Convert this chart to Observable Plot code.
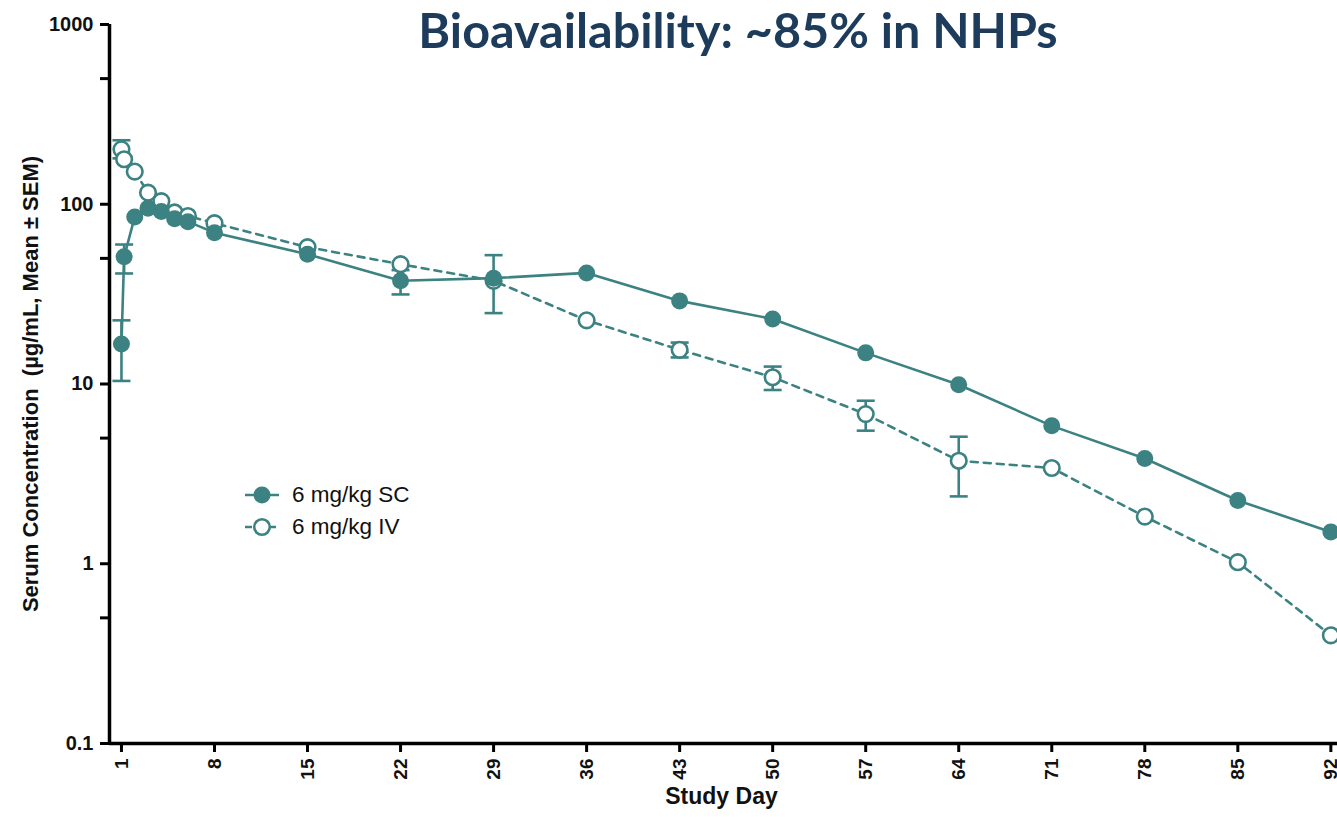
<!DOCTYPE html>
<html>
<head>
<meta charset="utf-8">
<script src="https://cdn.jsdelivr.net/npm/d3@7"></script>
<script src="https://cdn.jsdelivr.net/npm/@observablehq/plot@0.6"></script>
<style>
  html, body { margin: 0; padding: 0; background: #fff; }
  #wrap { position: relative; width: 1337px; height: 817px; overflow: hidden; }
  #title { position: absolute; top: 0px; left: 738px; transform: translateX(-50%); white-space: nowrap;
           font-family: Lato, "Open Sans", sans-serif; font-weight: 700; font-size: 48.5px; color: #1d3b5b; }
  #legend { position: absolute; left: 245px; top: 479px; font-family: "Liberation Sans", Arial, sans-serif;
            font-size: 22.5px; color: #111; }
  .item { display: flex; align-items: center; height: 32px; }
  .item svg { margin-right: 13px; }
</style>
</head>
<body>
<div id="wrap">
  <div id="chart"></div>
  <div id="title">Bioavailability: ~85% in NHPs</div>
  <div id="legend"></div>
</div>
<script>
// ---- data ----
const seriesNames = ["6 mg/kg SC", "6 mg/kg IV"];
const scDays = [1, 1.2, 2, 3, 4, 5, 6, 8, 15, 22, 29, 36, 43, 50, 57, 64, 71, 78, 85, 92];
const scConc = [16.7, 51, 85, 95, 91, 83, 80, 69.5, 52.7, 37.5, 38.8, 41.5, 29, 23, 14.9, 9.9, 5.85, 3.85, 2.25, 1.5];
const ivDays = [1, 1.2, 2, 3, 4, 5, 6, 8, 15, 22, 29, 36, 43, 50, 57, 64, 71, 78, 85, 92];
const ivConc = [202, 178, 152, 116, 104, 90, 86, 78.5, 57.7, 46.4, 37.5, 22.6, 15.5, 10.9, 6.8, 3.74, 3.41, 1.83, 1.02, 0.4];
const scErrDays = [1, 1.2, 22, 29];
const scErrLow = [10.4, 41.2, 31.5, 24.8];
const scErrHigh = [22.6, 59.7, 43, 52.1];
const ivErrDays = [1, 43, 50, 57, 64];
const ivErrLow = [180, 14.05, 9.26, 5.5, 2.37];
const ivErrHigh = [227, 17, 12.5, 8.07, 5.09];
const dayTicks = [1, 8, 15, 22, 29, 36, 43, 50, 57, 64, 71, 78, 85, 92];
const yMajorTicks = [0.1, 1, 10, 100, 1000];
const yMinorTicks = [0.5, 5, 50, 500];

// ---- tables ----
const sc = scDays.map((d, i) => ({day: d, conc: scConc[i]}));
const iv = ivDays.map((d, i) => ({day: d, conc: ivConc[i]}));
const errs = [
  ...scErrDays.map((d, i) => ({day: d, lo: scErrLow[i], hi: scErrHigh[i]})),
  ...ivErrDays.map((d, i) => ({day: d, lo: ivErrLow[i], hi: ivErrHigh[i]}))
];
const caps = errs.flatMap(e => [{day: e.day, v: e.lo}, {day: e.day, v: e.hi}]);

const teal = "#3c8282";
const font = "'Liberation Sans', Arial, sans-serif";
const noLabel = () => "";
const capSymbol = {
  draw(context, size) {
    const w = Math.sqrt(size / Math.PI);
    context.moveTo(-w, 0);
    context.lineTo(w, 0);
  }
};

const chart = Plot.plot({
  width: 1337,
  height: 817,
  marginLeft: 109,
  marginRight: 0,
  marginTop: 24,
  marginBottom: 74,
  style: {fontFamily: font, background: "white", overflow: "visible"},
  x: {type: "linear", domain: [0.1, 92.5]},
  y: {type: "log", domain: [0.1, 1000]},
  marks: [
    Plot.axisX({ticks: dayTicks, tickFormat: d => String(d), tickRotate: -90, tickSize: 9, tickPadding: 6,
      strokeWidth: 3, fill: "#111", label: null}),
    Plot.axisY({ticks: yMajorTicks, tickFormat: noLabel, tickSize: 9, strokeWidth: 3, label: null}),
    Plot.axisY({ticks: yMinorTicks, tickFormat: noLabel, tickSize: 9, strokeWidth: 3, label: null}),
    Plot.text(yMajorTicks, {y: d => d, frameAnchor: "left", dx: -16, textAnchor: "end",
      text: d => String(d), fontSize: 20, fontWeight: "bold", fill: "#111"}),
    Plot.ruleY([0.1], {stroke: "#000", strokeWidth: 3.5}),
    Plot.ruleX([0.1], {stroke: "#000", strokeWidth: 3.5}),
    Plot.text(["Study Day"], {frameAnchor: "bottom", dy: 60, dx: -2, fontSize: 23, fontWeight: "bold", fill: "#111"}),
    Plot.text(["Serum Concentration  (µg/mL, Mean ± SEM)"], {frameAnchor: "left", dx: -79, rotate: -90,
      textAnchor: "middle", fontSize: 22, fontWeight: "bold", fill: "#111"}),
    Plot.line(iv, {x: "day", y: "conc", stroke: teal, strokeWidth: 2.6, strokeDasharray: "7,6"}),
    Plot.line(sc, {x: "day", y: "conc", stroke: teal, strokeWidth: 2.6}),
    Plot.link(errs, {x1: "day", x2: "day", y1: "lo", y2: "hi", stroke: teal, strokeWidth: 2.6}),
    Plot.dot(caps, {x: "day", y: "v", symbol: capSymbol, r: 9, stroke: teal, strokeWidth: 2.6}),
    Plot.dot(iv, {x: "day", y: "conc", r: 7.8, fill: "white", stroke: teal, strokeWidth: 2.6}),
    Plot.dot(sc, {x: "day", y: "conc", r: 8.5, fill: teal, stroke: "none"})
  ]
});
// enlarge the x tick labels to the reference's bold size
d3.select(chart).selectAll("g")
  .filter(function() { return (this.getAttribute("aria-label") || "").includes("x-axis"); })
  .selectAll("text")
  .style("font-size", "19px").style("font-weight", "bold");
document.getElementById("chart").appendChild(chart);

// legend
const legend = document.getElementById("legend");
seriesNames.forEach((name, i) => {
  const row = document.createElement("div");
  row.className = "item";
  const dash = i === 1 ? ' stroke-dasharray="7,5"' : '';
  const fill = i === 1 ? "white" : teal;
  row.innerHTML = `<svg width="34" height="20"><line x1="0" x2="34" y1="10" y2="10" stroke="${teal}" stroke-width="2.6"${dash}/>` +
    `<circle cx="17" cy="10" r="${i === 1 ? 7.8 : 8.5}" fill="${fill}" stroke="${i === 1 ? teal : 'none'}" stroke-width="2.6"/></svg><span>${name}</span>`;
  legend.appendChild(row);
});
</script>
</body>
</html>
